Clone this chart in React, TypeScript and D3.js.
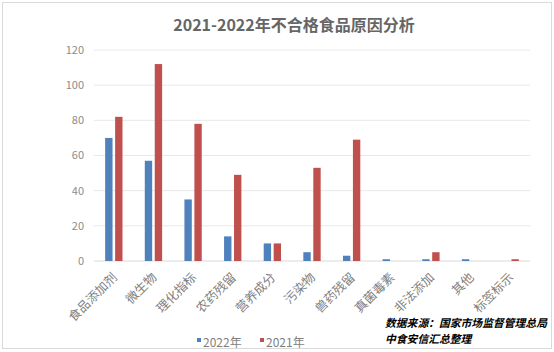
import { useEffect, useRef } from "react";
import * as d3 from "d3";

const categories = ["食品添加剂", "微生物", "理化指标", "农药残留", "营养成分", "污染物", "兽药残留", "真菌毒素", "非法添加", "其他", "标签标示"];
const values2022 = [70, 57, 35, 14, 10, 5, 3, 1, 1, 1, 0];
const values2021 = [82, 112, 78, 49, 10, 53, 69, 0, 5, 0, 1];
const seriesNames = ["2022年", "2021年"];
const yTicks = [0, 20, 40, 60, 80, 100, 120];

const W = 554;
const H = 352;
const FONT = "'Noto Sans CJK SC', 'Noto Sans', sans-serif";

export default function App() {
  const svgRef = useRef<SVGSVGElement>(null);

  useEffect(() => {
    if (!svgRef.current) return;
    const svg = d3.select(svgRef.current);
    svg.selectAll("*").remove();

    const left = 94, right = 530, top = 50, bottom = 261;

    // outer frame
    svg.append("rect")
      .attr("x", 2.5).attr("y", 2.5)
      .attr("width", W - 5).attr("height", H - 6)
      .attr("fill", "#fff")
      .attr("stroke", "#d9d9d9");

    svg.append("text")
      .attr("x", 294).attr("y", 31)
      .attr("text-anchor", "middle")
      .attr("font-family", FONT)
      .attr("font-size", 16)
      .attr("font-weight", "bold")
      .attr("fill", "#666")
      .text("2021-2022年不合格食品原因分析");

    const x = d3.scaleBand<string>().domain(categories).range([left, right]);
    const y = d3.scaleLinear().domain([0, 120]).range([bottom, top]);
    const inner = d3.scaleBand<string>()
      .domain(seriesNames)
      .range([0, x.bandwidth()])
      .paddingInner(0.26)
      .paddingOuter(1.12);

    // gridlines
    svg.append("g")
      .selectAll("line")
      .data(yTicks)
      .join("line")
      .attr("x1", left).attr("x2", right)
      .attr("y1", (d) => y(d)).attr("y2", (d) => y(d))
      .attr("stroke", (d) => (d === 0 ? "#d9d9d9" : "#e8e8e8"))
      .attr("stroke-width", 1);

    svg.append("g")
      .selectAll("text")
      .data(yTicks)
      .join("text")
      .attr("x", 84)
      .attr("y", (d) => y(d))
      .attr("dy", "0.35em")
      .attr("text-anchor", "end")
      .attr("font-family", FONT)
      .attr("font-size", 11)
      .attr("fill", "#8c8c8c")
      .text((d) => d);

    const colors = ["#4F81BD", "#C0504D"];
    const series = [values2022, values2021];
    series.forEach((vals, si) => {
      svg.append("g")
        .selectAll("rect")
        .data(vals.map((v, i) => ({ c: categories[i], v })))
        .join("rect")
        .attr("x", (d) => (x(d.c) ?? 0) + (inner(seriesNames[si]) ?? 0))
        .attr("y", (d) => y(d.v))
        .attr("width", inner.bandwidth())
        .attr("height", (d) => bottom - y(d.v))
        .attr("fill", colors[si]);
    });

    // x labels
    svg.append("g")
      .selectAll("text")
      .data(categories)
      .join("text")
      .attr("transform", (d) => `translate(${(x(d) ?? 0) + x.bandwidth() / 2 + 1},${bottom + 14}) rotate(-45)`)
      .attr("text-anchor", "end")
      .attr("dy", "0.35em")
      .attr("font-family", FONT)
      .attr("font-size", 12.5)
      .attr("fill", "#7f7f7f")
      .text((d) => d);

    // legend
    const legend = svg.append("g");
    const legendX = [197, 260];
    seriesNames.forEach((name, i) => {
      legend.append("rect")
        .attr("x", legendX[i]).attr("y", 338)
        .attr("width", 4).attr("height", 4)
        .attr("fill", colors[i]);
      legend.append("text")
        .attr("x", legendX[i] + 6).attr("y", 343)
        .attr("dy", "0.35em")
        .attr("font-family", FONT)
        .attr("font-size", 12)
        .attr("fill", "#7f7f7f")
        .text(name);
    });

    // source note
    const note = ["数据来源：国家市场监督管理总局", "中食安信汇总整理"];
    note.forEach((t, i) => {
      svg.append("text")
        .attr("x", 385).attr("y", 327 + i * 16)
        .attr("font-family", FONT)
        .attr("font-size", 10.8)
        .attr("font-weight", "bold")
        .attr("font-style", "italic")
        .attr("fill", "#000")
        .text(t);
    });
  }, []);

  return (
    <div style={{ position: "absolute", left: 0, top: 0 }}>
      <svg ref={svgRef} width={W} height={H} style={{ display: "block" }} />
    </div>
  );
}
